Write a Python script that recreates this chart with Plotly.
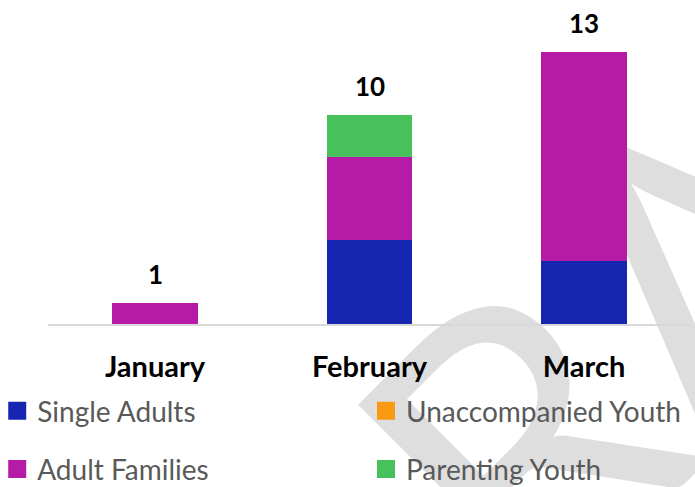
import plotly.graph_objects as go

months = ["January", "February", "March"]
single_adults = [0, 4, 3]
unaccompanied_youth = [0, 0, 0]
adult_families = [1, 4, 10]
parenting_youth = [0, 2, 0]

series = [
    ("Single Adults", single_adults, "#1726B0", "legend", "g1"),
    ("Unaccompanied Youth", unaccompanied_youth, "#F99B12", "legend2", "g3"),
    ("Adult Families", adult_families, "#B51BA7", "legend", "g2"),
    ("Parenting Youth", parenting_youth, "#47C15C", "legend2", "g4"),
]

totals = [sum(v) for v in zip(single_adults, unaccompanied_youth, adult_families, parenting_youth)]

W, H = 695, 487
fig = go.Figure()
for name, vals, color, leg, grp in series:
    fig.add_trace(go.Bar(x=months, y=vals, name=name, marker=dict(color=color, line=dict(width=0)),
                         showlegend=False, hoverinfo="skip"))
for name, vals, color, leg, grp in series:
    fig.add_trace(go.Scatter(x=[None], y=[None], mode="markers", name=name, legend=leg, legendgroup=grp,
                             marker=dict(symbol="square", size=16, color=color, line=dict(width=2, color=color))))

for m, t in zip(months, totals):
    fig.add_annotation(x=m, y=t, text=str(t), showarrow=False, yanchor="bottom", yshift=11,
                       font=dict(family="Lato", size=26, color="#000000", weight="bold"))

# watermark
cx, cy = 662 / W, 1 - 280 / H
fig.add_shape(type="rect", xref="paper", yref="paper", x0=cx - 0.001, x1=cx + 0.001, y0=cy - 0.001, y1=cy + 0.001,
              line=dict(width=0), fillcolor="rgba(0,0,0,0)", layer="below",
              label=dict(text="DRAFT", textangle=-45, textposition="middle center",
                         font=dict(family="Lato", size=400, color="#dedede")))

fig.update_layout(
    width=W, height=H,
    margin=dict(l=0, r=0, t=0, b=0, autoexpand=False),
    paper_bgcolor="white", plot_bgcolor="rgba(0,0,0,0)",
    barmode="stack", bargap=0.6,
    xaxis=dict(domain=[47.75 / W, 691.25 / W], showline=True, linecolor="#d9d9d9", linewidth=2,
               showgrid=False, ticks="", ticklabelstandoff=16, automargin=False,
               tickfont=dict(family="Lato", size=29, color="#000000", weight="bold")),
    yaxis=dict(domain=[(H - 324) / H, (H - 10.5) / H], range=[0, 15], visible=False, showgrid=False,
               automargin=False),
    legend=dict(x=-0.004, y=1 - 386 / H, xanchor="left", yanchor="top", orientation="v", tracegroupgap=19,
                maxheight=300, font=dict(family="Lato", size=28, color="#595959"), bgcolor="rgba(0,0,0,0)"),
    legend2=dict(x=366 / W, y=1 - 386 / H, xanchor="left", yanchor="top", orientation="v", tracegroupgap=19,
                 maxheight=300, font=dict(family="Lato", size=28, color="#595959"), bgcolor="rgba(0,0,0,0)"),
    showlegend=True,
)

fig.write_html("out.html", config={"displayModeBar": False},
               post_script="document.body.style.margin='0';document.body.style.overflow='hidden';")
